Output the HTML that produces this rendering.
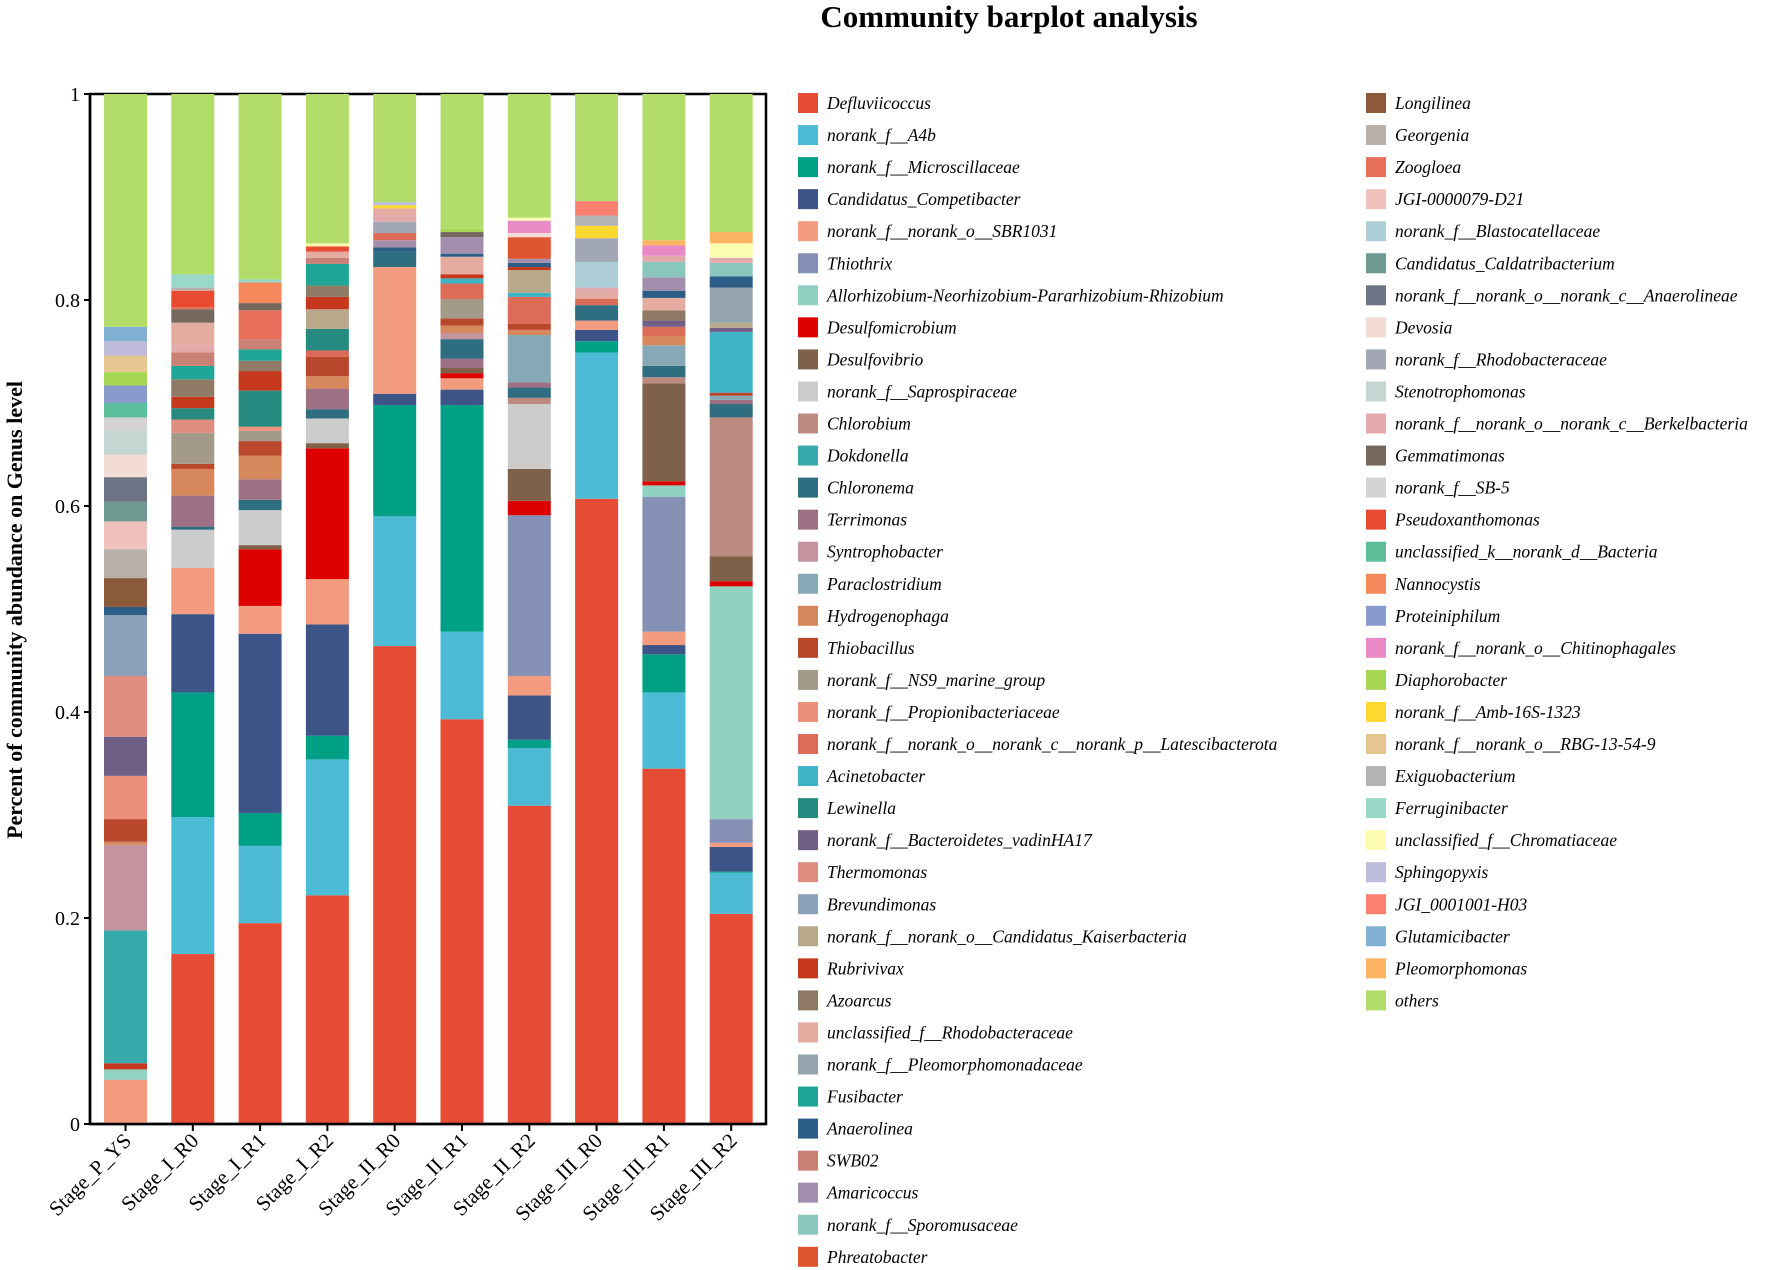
<!DOCTYPE html>
<html><head><meta charset="utf-8"><style>
body{margin:0;background:#fff;}
svg{display:block;}
svg text{font-family:"Liberation Serif","DejaVu Serif",serif;}
</style></head><body>
<svg id="chart" width="1772" height="1270" viewBox="0 0 1772 1270" xmlns="http://www.w3.org/2000/svg" font-family="Liberation Serif, DejaVu Serif, serif">
<text x="1009" y="27" text-anchor="middle" font-size="31" font-weight="bold" font-family="Liberation Serif, serif">Community barplot analysis</text>
<text transform="translate(22,610) rotate(-90)" text-anchor="middle" font-size="22" font-weight="bold" font-family="Liberation Serif, serif">Percent of community abundance on Genus level</text>
<g id="frame"></g><g id="bars"></g><g id="axes"></g><g id="legend"></g>
</svg>
<script>
const taxa=["Defluviicoccus","norank_f__A4b","norank_f__Microscillaceae","Candidatus_Competibacter","norank_f__norank_o__SBR1031","Thiothrix","Allorhizobium-Neorhizobium-Pararhizobium-Rhizobium","Desulfomicrobium","Desulfovibrio","norank_f__Saprospiraceae","Chlorobium","Dokdonella","Chloronema","Terrimonas","Syntrophobacter","Paraclostridium","Hydrogenophaga","Thiobacillus","norank_f__NS9_marine_group","norank_f__Propionibacteriaceae","norank_f__norank_o__norank_c__norank_p__Latescibacterota","Acinetobacter","Lewinella","norank_f__Bacteroidetes_vadinHA17","Thermomonas","Brevundimonas","norank_f__norank_o__Candidatus_Kaiserbacteria","Rubrivivax","Azoarcus","unclassified_f__Rhodobacteraceae","norank_f__Pleomorphomonadaceae","Fusibacter","Anaerolinea","SWB02","Amaricoccus","norank_f__Sporomusaceae","Phreatobacter","Longilinea","Georgenia","Zoogloea","JGI-0000079-D21","norank_f__Blastocatellaceae","Candidatus_Caldatribacterium","norank_f__norank_o__norank_c__Anaerolineae","Devosia","norank_f__Rhodobacteraceae","Stenotrophomonas","norank_f__norank_o__norank_c__Berkelbacteria","Gemmatimonas","norank_f__SB-5","Pseudoxanthomonas","unclassified_k__norank_d__Bacteria","Nannocystis","Proteiniphilum","norank_f__norank_o__Chitinophagales","Diaphorobacter","norank_f__Amb-16S-1323","norank_f__norank_o__RBG-13-54-9","Exiguobacterium","Ferruginibacter","unclassified_f__Chromatiaceae","Sphingopyxis","JGI_0001001-H03","Glutamicibacter","Pleomorphomonas","others"];
const colors=["#E64B35","#4DBBD5","#00A087","#3C5488","#F39B7F","#8491B4","#91D1C2","#DC0000","#7E6148","#CCCCCC","#BC8A80","#37A9AB","#2E6E80","#9E7083","#C4949E","#87A9B6","#D6875C","#B8472B","#A39A8A","#EB907A","#DC6B58","#3FB3C6","#278A80","#715F86","#DF8D7F","#8AA0B8","#B9A98B","#C6381E","#8F7A65","#E4ABA0","#94A4AE","#21A596","#2B5D86","#C98075","#A38FAD","#89C6BE","#DF5430","#8B5A3A","#B8AFA8","#E8705A","#EFC3BB","#ACCDD6","#6E9A92","#6C7385","#F4DCD6","#A1A8B3","#C3D6D1","#E3AAAC","#75695F","#D3D3D3","#E84B32","#5DBE9C","#F6895C","#889BCC","#E98AC7","#A5D654","#FDD82F","#E6C590","#B3B3B3","#99D8C9","#FCFCB0","#BEBADA","#FB8072","#80B1D3","#FDB462","#B2DD6B"];
const samples=["Stage_P_YS","Stage_I_R0","Stage_I_R1","Stage_I_R2","Stage_II_R0","Stage_II_R1","Stage_II_R2","Stage_III_R0","Stage_III_R1","Stage_III_R2"];
const yTicks=[0,0.2,0.4,0.6,0.8,1];
const yTickLabels=["0","0.2","0.4","0.6","0.8","1"];
// [taxonIndex, abundance] bottom to top
const s_PYS=[[4,.043],[6,.010],[27,.006],[11,.129],[14,.083],[16,.003],[17,.022],[19,.042],[23,.038],[24,.059],[25,.059],[32,.008],[37,.028],[38,.028],[40,.027],[42,.019],[43,.024],[44,.022],[46,.023],[49,.013],[51,.014],[53,.017],[55,.013],[57,.016],[61,.014],[63,.014],[65,.226]];
const s_IR0=[[0,.165],[1,.133],[2,.121],[3,.076],[4,.045],[9,.037],[12,.003],[13,.030],[16,.026],[17,.005],[18,.030],[24,.013],[22,.011],[27,.011],[28,.017],[31,.013],[33,.013],[47,.007],[29,.022],[48,.013],[20,.002],[50,.016],[38,.003],[59,.013],[65,.175]];
const s_IR1=[[0,.195],[1,.075],[2,.032],[3,.174],[4,.027],[7,.055],[8,.004],[9,.034],[12,.010],[13,.020],[16,.023],[17,.014],[18,.010],[19,.004],[22,.035],[27,.019],[28,.010],[31,.011],[33,.010],[39,.028],[48,.007],[52,.020],[59,.003],[65,.180]];
const s_IR2=[[0,.222],[1,.132],[2,.023],[3,.108],[4,.044],[7,.127],[8,.005],[9,.024],[12,.009],[13,.020],[16,.012],[17,.019],[20,.006],[22,.021],[26,.019],[27,.012],[28,.011],[31,.021],[33,.006],[29,.006],[50,.005],[60,.003],[65,.145]];
const s_IIR0=[[0,.464],[1,.126],[2,.108],[3,.011],[4,.123],[12,.015],[32,.004],[34,.007],[20,.007],[45,.011],[47,.007],[29,.006],[56,.003],[61,.003],[65,.105]];
const s_IIR1=[[0,.393],[1,.085],[2,.220],[3,.015],[4,.011],[7,.005],[8,.005],[13,.009],[12,.019],[14,.006],[16,.007],[17,.007],[18,.019],[20,.015],[21,.005],[27,.004],[29,.017],[32,.003],[34,.016],[48,.005],[55,.003],[65,.131]];
const s_IIR2=[[0,.309],[1,.056],[2,.008],[3,.043],[4,.019],[5,.156],[7,.014],[8,.031],[9,.063],[10,.006],[12,.010],[13,.005],[15,.046],[16,.005],[17,.006],[20,.026],[21,.004],[26,.022],[27,.003],[32,.004],[34,.004],[36,.021],[44,.004],[54,.012],[60,.003],[65,.120]];
const s_IIIR0=[[0,.607],[1,.142],[2,.011],[3,.011],[4,.009],[12,.015],[20,.006],[29,.006],[47,.005],[41,.025],[45,.023],[56,.012],[58,.010],[62,.014],[65,.104]];
const s_IIIR1=[[0,.345],[1,.074],[2,.037],[3,.009],[4,.013],[5,.131],[6,.011],[7,.004],[8,.095],[10,.006],[12,.011],[15,.020],[16,.009],[20,.009],[23,.006],[28,.010],[29,.012],[32,.007],[34,.013],[35,.015],[47,.006],[54,.010],[64,.005],[65,.142]];
const s_IIIR2=[[0,.204],[1,.040],[2,.001],[3,.024],[4,.004],[5,.023],[6,.226],[7,.005],[8,.024],[10,.135],[12,.013],[13,.004],[15,.004],[17,.003],[21,.059],[23,.004],[26,.005],[30,.034],[32,.011],[35,.013],[47,.005],[60,.014],[64,.011],[65,.134]];
const stacks=[s_PYS,s_IR0,s_IR1,s_IR2,s_IIR0,s_IIR1,s_IIR2,s_IIIR0,s_IIIR1,s_IIIR2];

const NS="http://www.w3.org/2000/svg";
const FF="Liberation Serif, DejaVu Serif, serif";
const PL=90,PR=766,PT=94,PB=1124;
function y(v){return PB-v*(PB-PT);}
function x(i){return 125.5+i*67.3;}
const BW=43;
function mk(tag,attrs,parent){const e=document.createElementNS(NS,tag);for(const k in attrs)e.setAttribute(k,attrs[k]);parent.appendChild(e);return e;}
const frame=document.getElementById('frame'),bars=document.getElementById('bars'),axes=document.getElementById('axes'),legend=document.getElementById('legend');
const box=mk('rect',{x:PL,y:PT,width:PR-PL,height:PB-PT,fill:'none',stroke:'#000','stroke-width':2.5},frame);


stacks.forEach((st,i)=>{
  let cum=0;
  const g=mk('g',{},bars);
  
  
  st.forEach(([t,v])=>{
    const r=mk('rect',{x:x(i)-BW/2,y:y(cum+v),width:BW,height:Math.max(0,y(cum)-y(cum+v)),fill:colors[t]},g);
    
    
    cum+=v;
  });
});
const l1=mk('line',{x1:PL,y1:PT,x2:PL,y2:PB+1,stroke:'#000','stroke-width':2.5},axes);


const l2=mk('line',{x1:PL,y1:PB,x2:PR,y2:PB,stroke:'#000','stroke-width':2.5},axes);


yTicks.forEach((t,k)=>{
  mk('line',{x1:PL-6,y1:y(t),x2:PL,y2:y(t),stroke:'#000','stroke-width':2},axes);
  const tx=mk('text',{x:PL-10,y:y(t)+7,'text-anchor':'end','font-size':20,'font-family':FF},axes);
  tx.textContent=yTickLabels[k];
  
  
});
samples.forEach((s,i)=>{
  mk('line',{x1:x(i),y1:PB,x2:x(i),y2:PB+7,stroke:'#000','stroke-width':2},axes);
  const tx=mk('text',{transform:`translate(${x(i)+7},${PB+18}) rotate(-45)`,'text-anchor':'end','font-size':21,'font-family':FF},axes);
  tx.textContent=s;
  
  
});
taxa.forEach((t,k)=>{
  const col=k<37?0:1, row=k<37?k:k-37;
  const sx=col?1366:798, cy=103+row*32.05;
  const g=mk('g',{},legend);
  
  
  mk('rect',{x:sx,y:cy-10,width:20,height:20,fill:colors[k]},g);
  const tx=mk('text',{x:sx+29,y:cy+6,'font-size':17.5,'font-style':'italic','font-family':FF},g);
  tx.textContent=t;
});
</script>
</body></html>
